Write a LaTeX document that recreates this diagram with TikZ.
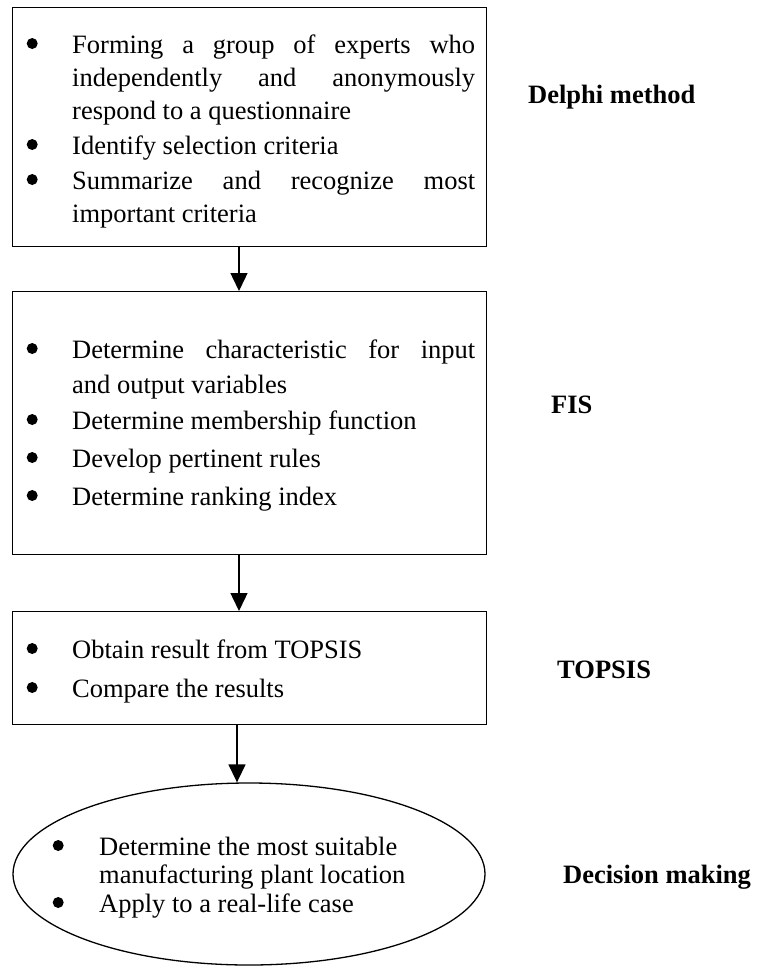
\documentclass[tikz,border=0pt]{standalone}
\usepackage{fontspec}
\setmainfont{Liberation Serif}
\usetikzlibrary{shapes.geometric,arrows.meta}
\newcommand{\bdot}{\tikz[baseline=0pt]\fill (0pt,9.5pt) circle[radius=5.5pt];}
\newcommand{\bitem}{\llap{\makebox[80pt][c]{\bdot}}}
\newcommand{\jline}[1]{\makebox[403pt][s]{#1}}
\tikzset{
  stepbox/.style={draw, line width=1.3pt, rectangle, anchor=north west, inner sep=0pt, minimum width=474pt},
  txt/.style={anchor=base west, align=left, inner sep=0pt},
  lbl/.style={anchor=base west, inner sep=0pt, font=\fontsize{26.5pt}{30pt}\selectfont\bfseries},
  arr/.style={line width=1.4pt, -{Triangle[width=17pt,length=18pt]}}
}
\begin{document}
\begin{tikzpicture}[x=1pt,y=-1pt]
\useasboundingbox (0,0) rectangle (757,967);
% boxes
\node[stepbox, minimum height=239pt] (b1) at (12,7) {};
\node[stepbox, minimum height=263pt] (b2) at (12,291) {};
\node[stepbox, minimum height=113pt] (b3) at (12,611) {};
\node[draw, line width=1.3pt, ellipse, inner sep=0pt, minimum width=472pt, minimum height=182pt] (e) at (249,874) {};
% texts (anchored at the baseline of their last line)
\node[txt, font=\fontsize{26.5pt}{33pt}\selectfont] (t1) at (72,222) {%
\bitem\jline{Forming a group of experts who}\\
\jline{independently and anonymously}\\
respond to a questionnaire\\[2pt]
\bitem Identify selection criteria\\[2pt]
\bitem\jline{Summarize and recognize most}\\
important criteria};
\node[txt, font=\fontsize{26.5pt}{35pt}\selectfont] (t2) at (72,505) {%
\bitem\jline{Determine characteristic for input}\\
and output variables\\[1pt]
\bitem Determine membership function\\[3pt]
\bitem Develop pertinent rules\\[3pt]
\bitem Determine ranking index};
\node[txt, font=\fontsize{26.5pt}{39pt}\selectfont] (t3) at (72,697) {%
\bitem Obtain result from TOPSIS\\
\bitem Compare the results};
\node[txt, font=\fontsize{26.5pt}{28.5pt}\selectfont] (t4) at (99,912) {%
\llap{\makebox[82pt][c]{\bdot}}Determine the most suitable\\
manufacturing plant location\\
\llap{\makebox[82pt][c]{\bdot}}Apply to a real-life case};
% labels
\node[lbl] (l1) at (528,103) {Delphi method};
\node[lbl] (l2) at (551,413) {FIS};
\node[lbl] (l3) at (557,678) {TOPSIS};
\node[lbl] (l4) at (563,883) {Decision making};
% arrows
\coordinate (a1) at (239,0);
\coordinate (a3) at (237,0);
\draw[arr] (b1.south -| a1) -- (b2.north -| a1);
\draw[arr] (b2.south -| a1) -- (b3.north -| a1);
\draw[arr] (b3.south -| a3) -- (e.north -| a3);
\end{tikzpicture}
\end{document}
